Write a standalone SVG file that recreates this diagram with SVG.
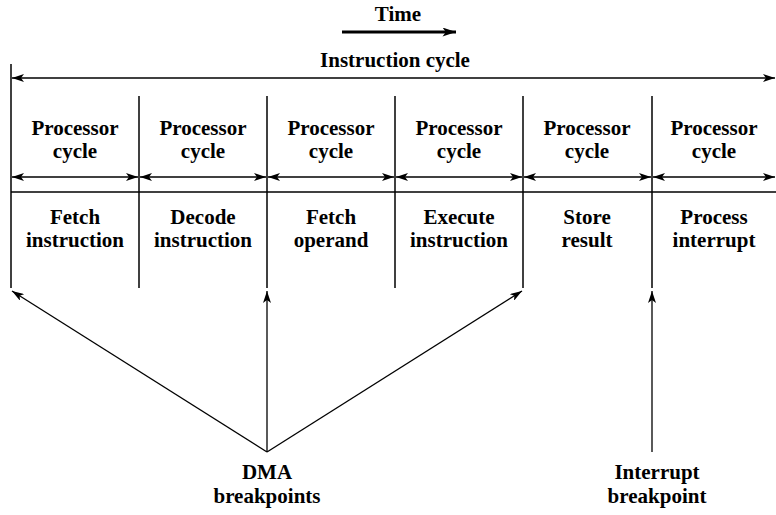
<svg xmlns="http://www.w3.org/2000/svg" width="776" height="515" viewBox="0 0 776 515">
<defs>
<marker id="ah" viewBox="0 0 12 8" refX="12" refY="4" markerWidth="12" markerHeight="8" markerUnits="userSpaceOnUse" orient="auto-start-reverse">
<path d="M0,0 L12,4 L0,8 L3,4 Z" fill="#000"/>
</marker>
<marker id="ahb" viewBox="0 0 12 8" refX="12" refY="4" markerWidth="14" markerHeight="9" markerUnits="userSpaceOnUse" orient="auto">
<path d="M0,0 L12,4 L0,8 L3,4 Z" fill="#000"/>
</marker>
</defs>
<style>
text{font-family:"Liberation Serif","Times New Roman",serif;font-weight:bold;font-size:21px;text-anchor:middle;fill:#000}
.l{stroke:#000;stroke-width:1.5;fill:none}
.a{stroke:#000;stroke-width:1.3;fill:none}
</style>
<rect width="776" height="515" fill="#fff"/>
<g id="time">
<text x="398" y="21">Time</text>
<line x1="342" y1="32" x2="456" y2="32" stroke="#000" stroke-width="2.8" marker-end="url(#ahb)"/>
</g>
<g id="instruction-cycle">
<text x="395" y="67">Instruction cycle</text>
</g>
<g id="grid">
<line class="l" x1="11" y1="64" x2="11" y2="288"/>
<line class="l" x1="139" y1="96" x2="139" y2="288"/>
<line class="l" x1="267" y1="96" x2="267" y2="288"/>
<line class="l" x1="395" y1="96" x2="395" y2="288"/>
<line class="l" x1="523" y1="96" x2="523" y2="288"/>
<line class="l" x1="652" y1="96" x2="652" y2="288"/>
<line class="l" x1="11" y1="192" x2="776" y2="192"/>
</g>
<g id="c1"><text x="75" y="135">Processor</text><text x="75" y="158">cycle</text><text x="75" y="224">Fetch</text><text x="75" y="247">instruction</text></g>
<g id="c2"><text x="203" y="135">Processor</text><text x="203" y="158">cycle</text><text x="203" y="224">Decode</text><text x="203" y="247">instruction</text></g>
<g id="c3"><text x="331" y="135">Processor</text><text x="331" y="158">cycle</text><text x="331" y="224">Fetch</text><text x="331" y="247">operand</text></g>
<g id="c4"><text x="459" y="135">Processor</text><text x="459" y="158">cycle</text><text x="459" y="224">Execute</text><text x="459" y="247">instruction</text></g>
<g id="c5"><text x="587" y="135">Processor</text><text x="587" y="158">cycle</text><text x="587" y="224">Store</text><text x="587" y="247">result</text></g>
<g id="c6"><text x="714" y="135">Processor</text><text x="714" y="158">cycle</text><text x="714" y="224">Process</text><text x="714" y="247">interrupt</text></g>
<g id="dma"><text x="267" y="479">DMA</text><text x="267" y="503">breakpoints</text></g>
<g id="intr"><text x="657" y="479">Interrupt</text><text x="657" y="503">breakpoint</text></g>
<g id="connectors">
<line class="a" x1="12" y1="78" x2="775" y2="78" marker-start="url(#ah)" marker-end="url(#ah)"/>
<line class="a" x1="12" y1="177" x2="138" y2="177" marker-start="url(#ah)" marker-end="url(#ah)"/>
<line class="a" x1="140" y1="177" x2="266" y2="177" marker-start="url(#ah)" marker-end="url(#ah)"/>
<line class="a" x1="268" y1="177" x2="394" y2="177" marker-start="url(#ah)" marker-end="url(#ah)"/>
<line class="a" x1="396" y1="177" x2="522" y2="177" marker-start="url(#ah)" marker-end="url(#ah)"/>
<line class="a" x1="524" y1="177" x2="651" y2="177" marker-start="url(#ah)" marker-end="url(#ah)"/>
<line class="a" x1="653" y1="177" x2="775" y2="177" marker-start="url(#ah)" marker-end="url(#ah)"/>
<line class="a" x1="267" y1="452" x2="12" y2="291" marker-end="url(#ah)"/>
<line class="a" x1="267" y1="452" x2="267" y2="291" marker-end="url(#ah)"/>
<line class="a" x1="267" y1="452" x2="522" y2="291" marker-end="url(#ah)"/>
<line class="a" x1="652" y1="452" x2="652" y2="291" marker-end="url(#ah)"/>
</g>
</svg>
